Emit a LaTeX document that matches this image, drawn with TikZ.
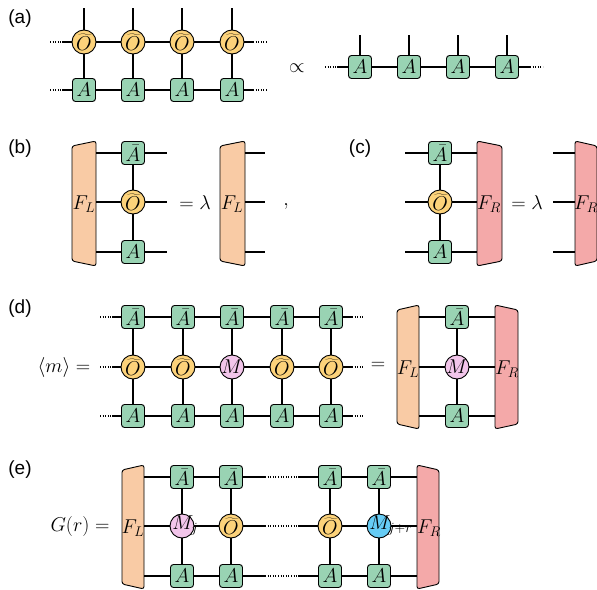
\RequirePackage{fix-cm}
\documentclass[tikz,border=0pt]{standalone}
\usepackage{fontspec}
\setsansfont{Liberation Sans}
\definecolor{gA}{HTML}{99D3B3}
\definecolor{gO}{HTML}{FCD27A}
\definecolor{gM}{HTML}{F2C5EA}
\definecolor{gB}{HTML}{66CCF5}
\definecolor{gL}{HTML}{F9CBA5}
\definecolor{gR}{HTML}{F4A9A9}
\newcommand{\subover}[1]{\hbox to 0pt{$\scriptstyle #1$\hss}}
\newcommand{\Ot}{\widetilde{O}}
\tikzset{
  ten/.style={draw, line width=0.9pt, rounded corners=3pt, fill=gA, minimum size=23pt, inner sep=0pt, font=\fontsize{20}{20}\selectfont},
  op/.style={circle, draw, line width=0.9pt, fill=gO, minimum size=24pt, inner sep=-4pt, font=\fontsize{20}{20}\selectfont},
  mop/.style={op, fill=gM},
  bop/.style={op, fill=gB},
  leg/.style={line width=1.1pt},
  dotl/.style={line width=1.1pt, dash pattern=on 1pt off 1.6pt},
  envL/.style={draw, line width=0.9pt, fill=gL, rounded corners=2.5pt},
  envR/.style={draw, line width=0.9pt, fill=gR, rounded corners=2.5pt},
  mtxt/.style={font=\fontsize{20}{20}\selectfont, inner sep=0pt},
  lab/.style={font=\sffamily\fontsize{19}{19}\selectfont, inner sep=0pt}
}
\begin{document}
\begin{tikzpicture}[x=1pt,y=-1pt]
\useasboundingbox (0,0) rectangle (597,589);

% ---------------- (a)
\node[lab] (la) at (20,19) {(a)};
\foreach \i/\x in {1/84,2/133,3/182,4/232}{
  \node[op] (o\i) at (\x,42) {$\Ot$};
  \node[ten] (a\i) at (\x,90) {$A$};
  \coordinate (ot\i) at (\x,8);
  \draw[leg] (o\i) -- (ot\i);
  \draw[leg] (o\i) -- (a\i);
}
\draw[leg] (o1) -- (o2) -- (o3) -- (o4);
\draw[leg] (a1) -- (a2) -- (a3) -- (a4);
\coordinate (oL0) at (50,42); \coordinate (oL1) at (62,42);
\coordinate (oR1) at (253,42); \coordinate (oR0) at (267,42);
\coordinate (aL0) at (50,90); \coordinate (aL1) at (62,90);
\coordinate (aR1) at (253,90); \coordinate (aR0) at (267,90);
\draw[dotl] (oL0) -- (oL1); \draw[leg] (oL1) -- (o1);
\draw[dotl] (aL0) -- (aL1); \draw[leg] (aL1) -- (a1);
\draw[leg] (o4) -- (oR1); \draw[dotl] (oR1) -- (oR0);
\draw[leg] (a4) -- (aR1); \draw[dotl] (aR1) -- (aR0);
\node[mtxt] (prop) at (297,68) {$\propto$};
\foreach \i/\x in {1/360,2/409,3/458,4/507}{
  \node[ten] (c\i) at (\x,67) {$A$};
  \coordinate (ct\i) at (\x,35);
  \draw[leg] (c\i) -- (ct\i);
}
\draw[leg] (c1) -- (c2) -- (c3) -- (c4);
\coordinate (cL0) at (325,67); \coordinate (cL1) at (337,67);
\coordinate (cR1) at (530,67); \coordinate (cR0) at (543,67);
\draw[dotl] (cL0) -- (cL1); \draw[leg] (cL1) -- (c1);
\draw[leg] (c4) -- (cR1); \draw[dotl] (cR1) -- (cR0);

% ---------------- (b)
\node[lab] (lb) at (20,149) {(b)};
\draw[envL] (72,146) -- (96,141) -- (96,266) -- (72,261) -- cycle;
\node[mtxt] (fl1) at (84,204) {$F_L$};
\node[ten] (b1) at (133,153) {$\bar A$};
\node[op]  (b2) at (133,202) {$\Ot$};
\node[ten] (b3) at (133,252) {$A$};
\draw[leg] (b1) -- (b2) -- (b3);
\foreach \i/\y in {1/153,2/202,3/252}{
  \coordinate (bl\i) at (96,\y);
  \coordinate (br\i) at (167,\y);
  \draw[leg] (bl\i) -- (b\i) -- (br\i);
}
\node[mtxt] (eqb) at (195,203) {$=\lambda$};
\draw[envL] (220,146) -- (245,141) -- (245,266) -- (220,261) -- cycle;
\node[mtxt] (fl2) at (232,204) {$F_L$};
\foreach \i/\y in {1/153,2/202,3/252}{
  \coordinate (bb\i) at (245,\y);
  \coordinate (be\i) at (265,\y);
  \draw[leg] (bb\i) -- (be\i);
}
\node[mtxt, anchor=base] (comma) at (286,205) {$,$};

% ---------------- (c)
\node[lab] (lc) at (360,149) {(c)};
\draw[envR] (477,141) -- (502,146) -- (502,261) -- (477,266) -- cycle;
\node[mtxt] (fr1) at (489,204) {$F_R$};
\node[ten] (k1) at (440,153) {$\bar A$};
\node[op]  (k2) at (440,202) {$\Ot$};
\node[ten] (k3) at (440,252) {$A$};
\draw[leg] (k1) -- (k2) -- (k3);
\foreach \i/\y in {1/153,2/202,3/252}{
  \coordinate (kl\i) at (405,\y);
  \coordinate (kr\i) at (477,\y);
  \draw[leg] (kl\i) -- (k\i) -- (kr\i);
}
\node[mtxt] (eqc) at (527,203) {$=\lambda$};
\draw[envR] (575,141) -- (597,146) -- (597,261) -- (575,266) -- cycle;
\node[mtxt] (fr2) at (586,204) {$F_R$};
\foreach \i/\y in {1/153,2/202,3/252}{
  \coordinate (kb\i) at (553,\y);
  \coordinate (ke\i) at (575,\y);
  \draw[leg] (kb\i) -- (ke\i);
}

% ---------------- (d)
\node[lab] (ld) at (20,309) {(d)};
\node[mtxt] (mexp) at (64,367) {$\langle m\rangle =$};
\foreach \i/\x in {1/133,2/183,3/232,4/282,5/331}{
  \node[ten] (du\i) at (\x,317) {$\bar A$};
  \node[ten] (dd\i) at (\x,416) {$A$};
}
\node[op]  (dm1) at (133,367) {$\Ot$};
\node[op]  (dm2) at (183,367) {$\Ot$};
\node[mop] (dm3) at (232,367) {$M$};
\node[op]  (dm4) at (282,367) {$\Ot$};
\node[op]  (dm5) at (331,367) {$\Ot$};
\foreach \i in {1,...,5}{ \draw[leg] (du\i) -- (dm\i) -- (dd\i); }
\foreach \r/\y in {du/317,dm/367,dd/416}{
  \draw[leg] (\r1) -- (\r2) -- (\r3) -- (\r4) -- (\r5);
  \coordinate (\r L0) at (100,\y); \coordinate (\r L1) at (112,\y);
  \coordinate (\r R1) at (352,\y); \coordinate (\r R0) at (365,\y);
  \draw[dotl] (\r L0) -- (\r L1); \draw[leg] (\r L1) -- (\r1);
  \draw[leg] (\r5) -- (\r R1); \draw[dotl] (\r R1) -- (\r R0);
}
\node[mtxt] (eqd) at (378,366) {$=$};
\draw[envL] (397,310) -- (419,305) -- (419,429) -- (397,424) -- cycle;
\node[mtxt] (fl3) at (408,369) {$F_L$};
\draw[envR] (495,305) -- (518,310) -- (518,424) -- (495,429) -- cycle;
\node[mtxt] (fr3) at (507,369) {$F_R$};
\node[ten] (q1) at (457,317) {$\bar A$};
\node[mop] (q2) at (457,367) {$M$};
\node[ten] (q3) at (457,416) {$A$};
\draw[leg] (q1) -- (q2) -- (q3);
\foreach \i/\y in {1/317,2/367,3/416}{
  \coordinate (ql\i) at (419,\y);
  \coordinate (qr\i) at (495,\y);
  \draw[leg] (ql\i) -- (q\i) -- (qr\i);
}

% ---------------- (e)
\node[lab] (le) at (20,470) {(e)};
\node[mtxt] (gexp) at (80,526) {$G(r) =$};
\draw[envL] (122,470) -- (144,465) -- (144,589) -- (122,584) -- cycle;
\node[mtxt] (fl4) at (133,528) {$F_L$};
\draw[envR] (417,465) -- (439,470) -- (439,584) -- (417,589) -- cycle;
\node[mtxt] (fr4) at (429,528) {$F_R$};
\foreach \i/\x in {1/182,2/231,3/330,4/379}{
  \node[ten] (eu\i) at (\x,477) {$\bar A$};
  \node[ten] (ed\i) at (\x,576) {$A$};
}
\node[mop] (em1) at (182,526) {$M_{\subover{j}}$};
\node[op]  (em2) at (231,526) {$\Ot$};
\node[op]  (em3) at (330,526) {$\Ot$};
\node[bop] (em4) at (379,526) {$M_{\subover{j+r}}$};
\foreach \i in {1,...,4}{ \draw[leg] (eu\i) -- (em\i) -- (ed\i); }
\foreach \r/\y in {eu/477,em/526,ed/576}{
  \coordinate (\r FL) at (144,\y); \coordinate (\r FR) at (417,\y);
  \coordinate (\r g1) at (265,\y); \coordinate (\r g2) at (298,\y);
  \draw[leg] (\r FL) -- (\r1) -- (\r2) -- (\r g1);
  \draw[dotl] (\r g1) -- (\r g2);
  \draw[leg] (\r g2) -- (\r3) -- (\r4) -- (\r FR);
}
\end{tikzpicture}
\end{document}
